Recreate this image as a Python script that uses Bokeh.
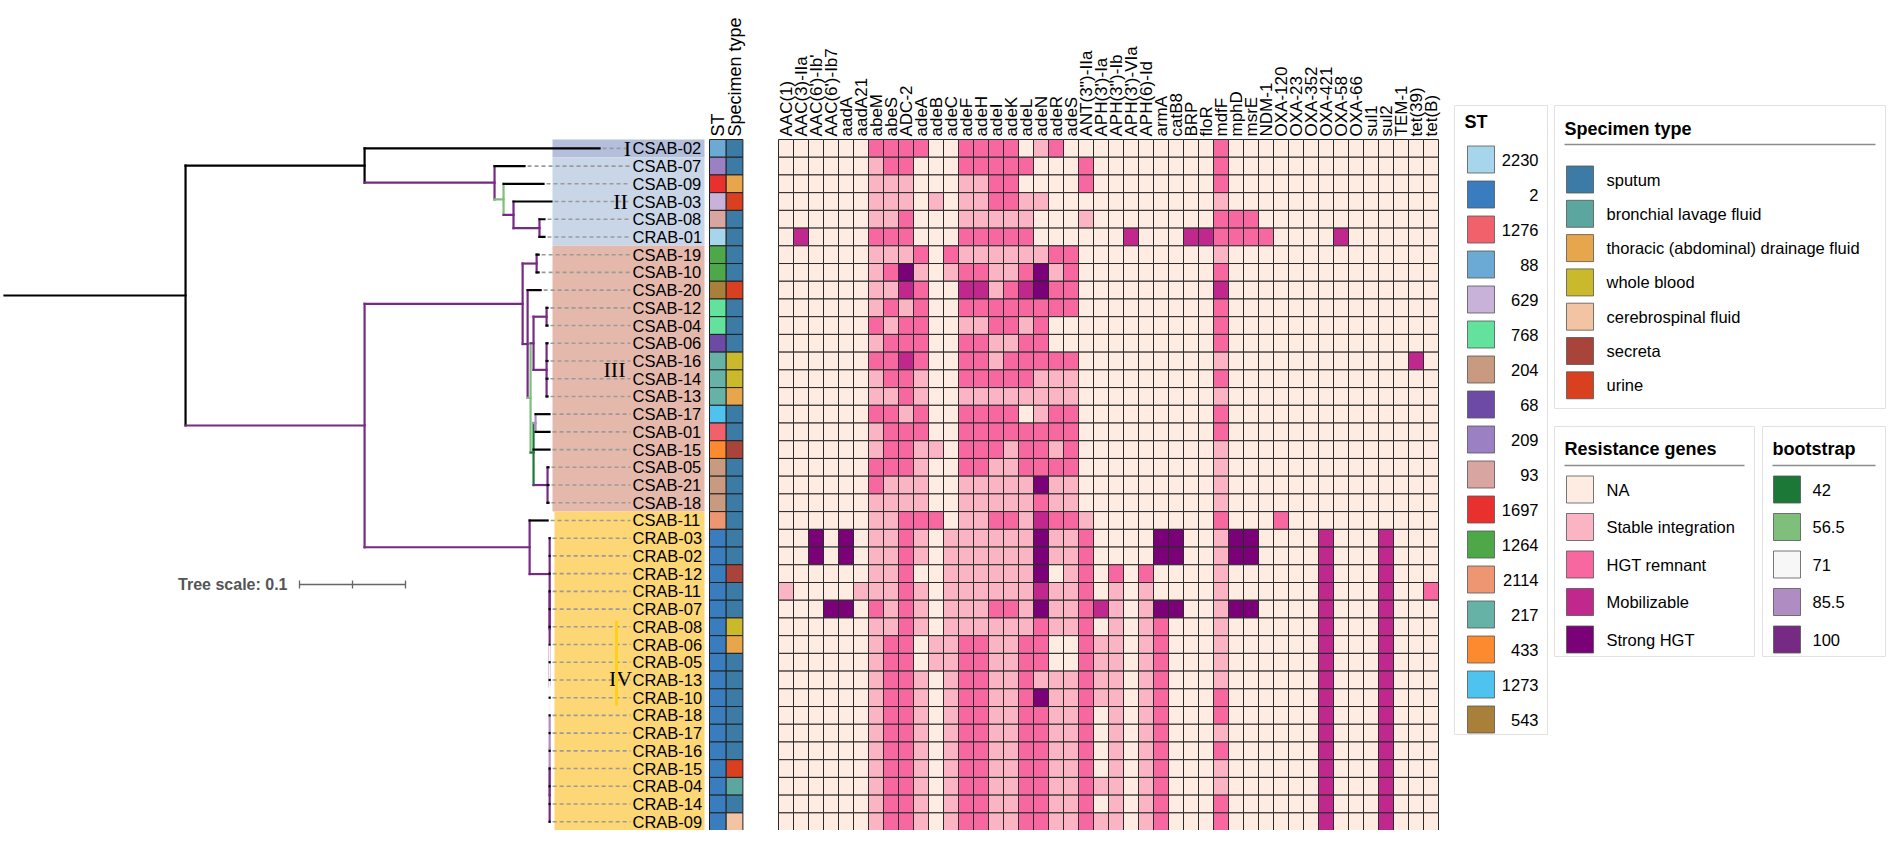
import math
from bokeh.plotting import figure
from bokeh.models import Range1d
from bokeh.embed import file_html
from bokeh.resources import INLINE
from bokeh.core.properties import value

# ---------------- data ----------------
leaves = ["CSAB-02", "CSAB-07", "CSAB-09", "CSAB-03", "CSAB-08", "CRAB-01",
          "CSAB-19", "CSAB-10", "CSAB-20", "CSAB-12", "CSAB-04", "CSAB-06",
          "CSAB-16", "CSAB-14", "CSAB-13", "CSAB-17", "CSAB-01", "CSAB-15",
          "CSAB-05", "CSAB-21", "CSAB-18", "CSAB-11", "CRAB-03", "CRAB-02",
          "CRAB-12", "CRAB-11", "CRAB-07", "CRAB-08", "CRAB-06", "CRAB-05",
          "CRAB-13", "CRAB-10", "CRAB-18", "CRAB-17", "CRAB-16", "CRAB-15",
          "CRAB-04", "CRAB-14", "CRAB-09"]

newick = ("((CSAB-02:0.2217,(CSAB-07:0.0283,(CSAB-09:0.0377,(CSAB-03:0.0358,"
          "(CSAB-08:0.0047,CRAB-01:0.0047)100:0.0245)100:0.0094)56.5:0.0085)100:0.1226):0.1689,"
          "(((CSAB-19:0.0019,CSAB-10:0.0019)100:0.0132,(CSAB-20:0.0123,"
          "(((CSAB-12:0.0009,CSAB-04:0.0009)100:0.0123,(CSAB-06:0.0009,CSAB-16:0.0009,"
          "CSAB-14:0.0009,CSAB-13:0.0009)100:0.0123)100:0.0028,((CSAB-17:0.0132,"
          "CSAB-01:0.0132)85.5:0.0019,CSAB-15:0.0151,(CSAB-05:0.0009,CSAB-21:0.0009,"
          "CSAB-18:0.0009)100:0.0132)42:0.0028)56.5:0.0028)100:0.0047)100:0.1491,"
          "(CSAB-11:0.0170,(CRAB-03:0,CRAB-02:0,CRAB-12:0,(CRAB-11:0,CRAB-07:0,CRAB-08:0,"
          "(CRAB-06:0,CRAB-05:0,CRAB-13:0,CRAB-10:0,(CRAB-18:0,CRAB-17:0,CRAB-16:0,"
          "(CRAB-15:0,CRAB-04:0,CRAB-14:0,CRAB-09:0)100:0)85.5:0)71:0)100:0)100:0.0189)100:0.1557)100:0.1689):0.1708;")

clade_names = ["I", "II", "III", "IV"]
clade_first = ["CSAB-02", "CSAB-07", "CSAB-19", "CSAB-11"]
clade_last = ["CSAB-02", "CRAB-01", "CSAB-18", "CRAB-09"]
clade_colors = ["#b4bfdb", "#c9d6e7", "#e5b8ac", "#fdd675"]

st_values = ["88", "209", "1697", "629", "93", "2230", "1264", "1264", "543", "768",
             "768", "68", "217", "217", "217", "1273", "1276", "433", "204", "204",
             "204", "2114"] + ["2"] * 17

specimen_values = ["sputum", "sputum", "thoracic (abdominal) drainage fluid", "urine",
                   "sputum", "sputum", "sputum", "sputum", "urine", "sputum", "sputum",
                   "sputum", "whole blood", "whole blood", "thoracic (abdominal) drainage fluid",
                   "sputum", "sputum", "secreta", "sputum", "sputum", "sputum", "sputum",
                   "sputum", "sputum", "secreta", "sputum", "sputum", "whole blood",
                   "thoracic (abdominal) drainage fluid", "sputum", "sputum", "sputum",
                   "sputum", "sputum", "sputum", "urine", "bronchial lavage fluid",
                   "sputum", "cerebrospinal fluid"]

genes = ["AAC(1)", "AAC(3)-IIa", "AAC(6')-Ib'", "AAC(6')-Ib7", "aadA", "aadA21", "abeM",
         "abeS", "ADC-2", "adeA", "adeB", "adeC", "adeF", "adeH", "adeI", "adeK", "adeL",
         "adeN", "adeR", "adeS", "ANT(3'')-IIa", "APH(3')-Ia", "APH(3'')-Ib", "APH(3')-VIa",
         "APH(6)-Id", "armA", "catB8", "BRP", "floR", "mdfF", "mphD", "msrE", "NDM-1",
         "OXA-120", "OXA-23", "OXA-352", "OXA-421", "OXA-58", "OXA-66", "sul1", "sul2",
         "TEM-1", "tet(39)", "tet(B)"]

# resistance level per sample (row) and gene (column): 0 NA .. 4 Strong HGT
resistance = [
    "000000222200222201200000000002" "00000000000000",
    "000000122000222220002000000002" "00000000000000",
    "000000111000112200002000000002" "00000000000000",
    "000000111010112211000000000001" "00000000000000",
    "000000112000111110001000000002" "22000000000000",
    "030000222000222220000003000332" "22200003000000",
    "000000111202111111220000000001" "00000000000000",
    "000000124101221124120000000002" "00000000000000",
    "000000113200331234220000000003" "00000000000000",
    "000000121200222222220000000002" "00000000000000",
    "000000212200112212000000000002" "00000000000000",
    "000000122200221122000000000002" "00000000000000",
    "000000223200221222220000000001" "00000000000030",
    "000000122100222221110000000002" "00000000000000",
    "000000112100111111110000000001" "00000000000000",
    "000000221200222201220000000002" "00000000000000",
    "000000122200222222220000000002" "00000000000000",
    "000000122110222122120000000001" "00000000000000",
    "000000222100221122220000000001" "00000000000000",
    "000000211100111114110000000001" "00000000000000",
    "000000111100111112110000000001" "00000000000000",
    "000000112220112213221000000002" "00020000000000",
    "004040112101111114112000044001" "44000030003000",
    "004040112101111114112000044001" "44000030003000",
    "000000112001111114012020200001" "00000030003000",
    "100001112101111113112010100001" "00000030003002",
    "000440212101112214112310144001" "44000030003000",
    "000000112101111112112010120001" "00000030003000",
    "000000122011221122002110120001" "00000030003000",
    "000000122011221122002110120001" "00000030003000",
    "000000122101221121112110120001" "00000030003000",
    "000000122101221124112110120002" "00000030003000",
    "000000122101221122112010120002" "00000030003000",
    "000000122101221122112010120001" "00000030003000",
    "000000122101221122112010120002" "00000030003000",
    "000000122101221122112010120001" "00000030003000",
    "000000122101221122112110120001" "00000030003000",
    "000000122101221122112010120002" "00000030003000",
    "000000122101221122112110120002" "00000030003000",
]

st_levels = ["2230", "2", "1276", "88", "629", "768", "204", "68", "209", "93", "1697",
             "1264", "2114", "217", "433", "1273", "543"]
st_colors = ["#a6d5ec", "#3a7dbf", "#f1616b", "#6aaad4", "#c9b2da", "#63e29e", "#c89a80",
             "#6d4aa5", "#9b80c3", "#d9a5a1", "#e8312f", "#4ea84a", "#ee9672", "#66b2a6",
             "#fd8a2e", "#4fc3f0", "#a8803a"]

spec_levels = ["sputum", "bronchial lavage fluid", "thoracic (abdominal) drainage fluid",
               "whole blood", "cerebrospinal fluid", "secreta", "urine"]
spec_colors = ["#3c7ba6", "#5ba79f", "#e8a64c", "#cbb92c", "#f2c4a4", "#a9443b", "#d8401f"]

res_levels = ["NA", "Stable integration", "HGT remnant", "Mobilizable", "Strong HGT"]
res_colors = ["#feebe2", "#fbb4c4", "#f768a1", "#c0288e", "#7a0177"]

boot_levels = ["42", "56.5", "71", "85.5", "100"]
boot_colors = ["#1b7837", "#7fbf7b", "#f7f7f7", "#af8dc3", "#762a83"]

tree_scale_value = 0.1

# ---------------- layout constants (page pixels) ----------------
W, H = 1886, 830
FONT = value("Liberation Sans")
SERIF = value("Liberation Serif")

ROW_TOP = 147.0
ROW_H = 17.72
TREE_X0 = 12.0
PX_PER_UNIT = 1060.0
LABEL_X = 640.0
ST_X0, ST_W = 717.0, 16.7
HM_X0, HM_W = 786.0, 15.0
BOX_X1 = 712.0
BOX_X0 = [560.0, 560.0, 560.0, 562.0]

p = figure(width=W, height=H, x_range=Range1d(8, 8 + W), y_range=Range1d(8 + H, 8),
           output_backend="svg", toolbar_location=None, min_border=0)
p.axis.visible = False
p.grid.visible = False
p.outline_line_color = None
p.background_fill_color = "white"


def row_y(i):
    return ROW_TOP + ROW_H * (i + 0.5)


# ---------------- parse tree ----------------
def parse_newick(s):
    pos = 0

    def node():
        nonlocal pos
        children = []
        if s[pos] == "(":
            pos += 1
            while True:
                children.append(node())
                if s[pos] == ",":
                    pos += 1
                    continue
                if s[pos] == ")":
                    pos += 1
                    break
        start = pos
        while pos < len(s) and s[pos] not in ":,);":
            pos += 1
        name = s[start:pos]
        length = 0.0
        if pos < len(s) and s[pos] == ":":
            pos += 1
            start = pos
            while s[pos] not in ",);":
                pos += 1
            length = float(s[start:pos])
        return {"name": name, "len": length, "children": children}

    return node()


root = parse_newick(newick)
leaf_index = {n: i for i, n in enumerate(leaves)}


def boot_color(nd):
    if not nd["children"] or nd["name"] == "":
        return "black"
    return boot_colors[boot_levels.index(nd["name"])]


def layout(nd, x_parent):
    nd["x"] = x_parent + nd["len"] * PX_PER_UNIT
    if nd["children"]:
        for c in nd["children"]:
            layout(c, nd["x"])
        nd["y"] = sum(c["y"] for c in nd["children"]) / len(nd["children"])
    else:
        nd["y"] = row_y(leaf_index[nd["name"]])


layout(root, TREE_X0)

# clade background boxes
for x0, a, b, col in zip(BOX_X0, clade_first, clade_last, clade_colors):
    ia, ib = leaf_index[a], leaf_index[b]
    p.quad(left=[x0], right=[BOX_X1], top=[ROW_TOP + ROW_H * ia],
           bottom=[ROW_TOP + ROW_H * (ib + 1)], fill_color=col, line_color=None)

seg = {"x0": [], "y0": [], "x1": [], "y1": [], "c": []}
tips = []


def draw(nd):
    if nd["children"]:
        ys = [c["y"] for c in nd["children"]]
        seg["x0"].append(nd["x"]); seg["x1"].append(nd["x"])
        seg["y0"].append(min(ys)); seg["y1"].append(max(ys))
        seg["c"].append(boot_color(nd))
        for c in nd["children"]:
            seg["x0"].append(nd["x"]); seg["x1"].append(c["x"])
            seg["y0"].append(c["y"]); seg["y1"].append(c["y"])
            seg["c"].append(boot_color(c))
        for c in nd["children"]:
            draw(c)
    else:
        tips.append(nd)


seg["x0"].append(TREE_X0); seg["x1"].append(root["x"])
seg["y0"].append(root["y"]); seg["y1"].append(root["y"]); seg["c"].append("black")
draw(root)

# dashed connectors
tips_sorted = sorted(tips, key=lambda t: leaf_index[t["name"]])
p.segment(x0=[t["x"] + 3 for t in tips_sorted], y0=[t["y"] for t in tips_sorted],
          x1=[LABEL_X - 2] * len(tips_sorted), y1=[t["y"] for t in tips_sorted],
          line_color="#9a9a9a", line_width=1.6, line_dash="4 3")

p.segment(x0="x0", y0="y0", x1="x1", y1="y1", line_color="c", source=seg,
          line_width=2.2, line_cap="square")

# tip labels
p.text(x=[LABEL_X] * len(leaves), y=[row_y(i) for i in range(len(leaves))], text=leaves,
       text_font=FONT, text_font_size="16.5px", text_align="left", text_baseline="middle",
       text_color="black")

# clade labels
clade_lab_x = [635, 628, 622, 628]
clade_lab_y = [row_y(0), row_y(leaf_index["CSAB-03"]), row_y(leaf_index["CSAB-16"]) + 8,
               row_y(leaf_index["CRAB-05"]) + 16]
p.text(x=clade_lab_x, y=clade_lab_y, text=clade_names, text_font=SERIF,
       text_font_size="22px", text_align="center", text_baseline="middle",
       text_color="black")
p.segment(x0=[624], x1=[624], y0=[row_y(leaf_index["CRAB-08"]) - 6],
          y1=[row_y(leaf_index["CRAB-18"]) - 10], line_color="#fcd116", line_width=3)

# tree scale
sb_x0, sb_y = 307.0, 592.0
sb_x1 = sb_x0 + tree_scale_value * PX_PER_UNIT
p.segment(x0=[sb_x0], x1=[sb_x1], y0=[sb_y], y1=[sb_y], line_color="#666666", line_width=1.3)
p.segment(x0=[sb_x0, (sb_x0 + sb_x1) / 2, sb_x1], x1=[sb_x0, (sb_x0 + sb_x1) / 2, sb_x1],
          y0=[sb_y - 4] * 3, y1=[sb_y + 4] * 3, line_color="#666666", line_width=1.3)
p.text(x=[sb_x0 - 12], y=[sb_y], text=["Tree scale: %g" % tree_scale_value], text_font=FONT,
       text_font_size="16px", text_font_style="bold", text_color="#555555",
       text_align="right", text_baseline="middle")

# ST / specimen columns
n = len(leaves)
p.rect(x=[ST_X0 + ST_W / 2] * n, y=[row_y(i) for i in range(n)], width=ST_W, height=ROW_H,
       fill_color=[st_colors[st_levels.index(v)] for v in st_values], line_color="#222222",
       line_width=1)
p.rect(x=[ST_X0 + ST_W * 1.5] * n, y=[row_y(i) for i in range(n)], width=ST_W, height=ROW_H,
       fill_color=[spec_colors[spec_levels.index(v)] for v in specimen_values],
       line_color="#222222", line_width=1)
p.text(x=[ST_X0 + ST_W / 2, ST_X0 + ST_W * 1.5], y=[ROW_TOP - 3] * 2,
       text=["ST", "Specimen type"], angle=math.pi / 2, text_font=FONT,
       text_font_size="18px", text_align="left", text_baseline="middle", text_color="black")

# heatmap
hx, hy, hc = [], [], []
for i, row in enumerate(resistance):
    for j, ch in enumerate(row):
        hx.append(HM_X0 + HM_W * (j + 0.5))
        hy.append(row_y(i))
        hc.append(res_colors[int(ch)])
p.rect(x=hx, y=hy, width=HM_W, height=ROW_H, fill_color=hc, line_color="#2a2a2a",
       line_width=1)
p.text(x=[HM_X0 + HM_W * (j + 0.5) for j in range(len(genes))], y=[ROW_TOP - 3] * len(genes),
       text=genes, angle=math.pi / 2, text_font=FONT, text_font_size="17px",
       text_align="left", text_baseline="middle", text_color="black")


# ---------------- legends ----------------
def legend(x0, x1, y0, y1, title, title_y, underline_y, labels, colors, first_y, step,
           sw_x, sw_w, sw_h, lab_x, align):
    p.quad(left=[x0], right=[x1], top=[y0], bottom=[y1], fill_color="white",
           line_color="#e2e2e2", line_width=1)
    p.text(x=[x0 + 10], y=[title_y], text=[title], text_font=FONT, text_font_size="18px",
           text_font_style="bold", text_baseline="middle", text_align="left",
           text_color="black")
    if underline_y is not None:
        p.segment(x0=[x0 + 10], x1=[x1 - 10], y0=[underline_y], y1=[underline_y],
                  line_color="#8c8c8c", line_width=1.5)
    ys = [first_y + step * k for k in range(len(labels))]
    p.rect(x=[sw_x + sw_w / 2] * len(labels), y=ys, width=sw_w, height=sw_h,
           fill_color=colors, line_color="#555555", line_width=0.8)
    p.text(x=[lab_x] * len(labels), y=ys, text=labels, text_font=FONT,
           text_font_size="16.5px", text_align=align, text_baseline="middle",
           text_color="black")


legend(1462, 1555, 113, 742, "ST", 129, None, st_levels, st_colors, 167, 35.0,
       1475, 27, 27, 1546, "right")
legend(1562, 1893, 113, 416, "Specimen type", 136, 152, spec_levels, spec_colors, 187, 34.3,
       1574, 27, 27, 1614, "left")
legend(1562, 1762, 434, 664, "Resistance genes", 456, 473, res_levels, res_colors, 497, 37.5,
       1574, 27, 27, 1614, "left")
legend(1770, 1893, 434, 664, "bootstrap", 456, 473, boot_levels, boot_colors, 497, 37.5,
       1781, 27, 27, 1820, "left")

open("out.html", "w").write(file_html(p, INLINE))
